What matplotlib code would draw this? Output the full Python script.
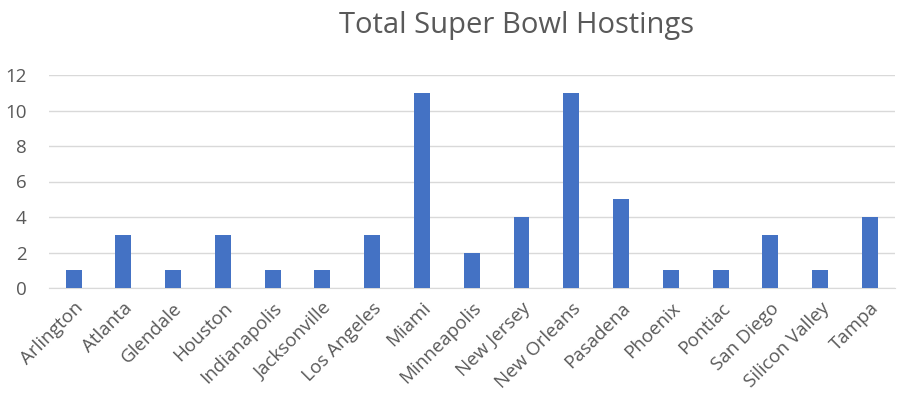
import matplotlib.pyplot as plt
import numpy as np

plt.rcParams['font.family'] = ['Open Sans', 'DejaVu Sans']

# Super Bowl host cities
cities = ["Arlington", "Atlanta", "Glendale", "Houston", "Indianapolis",
          "Jacksonville", "Los Angeles", "Miami", "Minneapolis", "New Jersey",
          "New Orleans", "Pasadena", "Phoenix", "Pontiac", "San Diego",
          "Silicon Valley", "Tampa"]
hostings = [1, 3, 1, 3, 1, 1, 3, 11, 2, 4, 11, 5, 1, 1, 3, 1, 4]

fig = plt.figure(figsize=(9.02, 4.0), dpi=100)
ax = fig.add_axes([0.054, 0.28, 0.938, 0.5325])

x = np.arange(len(cities))
ax.bar(x, hostings, width=0.32, color='#4472C4', zorder=3)

ax.set_xlim(-0.5, len(cities) - 0.5)
ax.set_ylim(0, 12)
ax.set_yticks(range(0, 13, 2))
ax.yaxis.grid(True, color='#D9D9D9', linewidth=1, zorder=0)
ax.set_xticks(x)
ax.set_xticklabels(cities, rotation=45, ha='right', rotation_mode='anchor')
ax.tick_params(axis='both', length=0, labelsize=13.5, labelcolor='#595959')
ax.tick_params(axis='x', pad=8)
ax.tick_params(axis='y', pad=16)
for s in ['top', 'right', 'left']:
    ax.spines[s].set_visible(False)
ax.spines['bottom'].set_color('#D9D9D9')

fig.text(0.573, 0.935, "Total Super Bowl Hostings", ha='center', va='center',
         fontsize=21, color='#595959')

fig.savefig("out.png", dpi=100)
